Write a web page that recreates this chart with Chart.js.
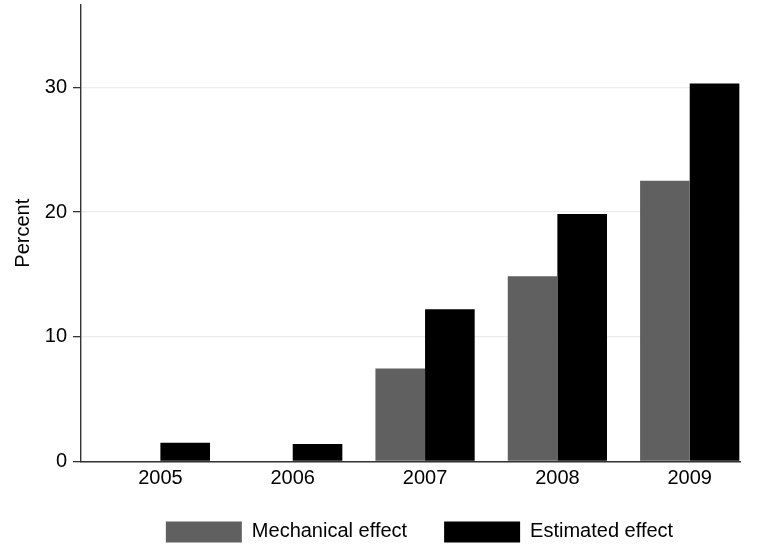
<!DOCTYPE html>
<html>
<head>
<meta charset="utf-8">
<script src="https://cdn.jsdelivr.net/npm/chart.js@4/dist/chart.umd.min.js"></script>
<style>
  html, body { margin: 0; padding: 0; background: #fff; }
  #wrap { width: 760px; height: 548px; }
</style>
</head>
<body>
<div id="wrap"><canvas id="chart" width="760" height="548"></canvas></div>
<script>
// data
const years = [2005, 2006, 2007, 2008, 2009];
const mechanical = [0, 0, 7.45, 14.85, 22.5];
const estimated = [1.5, 1.4, 12.2, 19.85, 30.3];
const yTicks = [0, 10, 20, 30];

const FONT = "'Liberation Sans', Arial, sans-serif";

const toPoints = vals => years.map((yr, i) => ({ x: yr, y: vals[i] }));

// nudge the legend so it sits where the original one does
const legendNudge = {
  id: 'legendNudge',
  afterLayout(chart) {
    const lg = chart.legend;
    if (!lg) return;
    const dy = 484.4 - lg.top;
    lg.left += 9; lg.right += 9;
    lg.top += dy; lg.bottom += dy;
  }
};

new Chart(document.getElementById('chart'), {
  type: 'bar',
  data: {
    datasets: [
      {
        label: 'Mechanical effect',
        data: toPoints(mechanical),
        backgroundColor: '#606060',
        borderWidth: 0,
        categoryPercentage: 0.75,
        barPercentage: 1
      },
      {
        label: 'Estimated effect',
        data: toPoints(estimated),
        backgroundColor: '#000000',
        borderWidth: 0,
        categoryPercentage: 0.75,
        barPercentage: 1
      }
    ]
  },
  options: {
    responsive: false,
    animation: false,
    events: [],
    layout: { padding: { left: 0, right: 20, top: 5, bottom: -11.5 } },
    scales: {
      x: {
        type: 'linear',
        offset: false,
        min: 2004.4,
        max: 2009.38,
        grid: { display: false, drawTicks: false },
        border: { display: true, color: '#333', width: 1.4 },
        afterBuildTicks: scale => { scale.ticks = years.map(v => ({ value: v })); },
        afterFit: scale => {
          scale.height = 30;
          scale.paddingLeft = 0; scale.paddingRight = 0;
        },
        ticks: {
          padding: 4.5,
          color: '#000',
          font: { family: FONT, size: 20 },
          callback: v => String(v)
        }
      },
      y: {
        min: 0,
        max: 36.6,
        grid: { color: '#ececec', lineWidth: 1.3, tickLength: 8, tickColor: '#333', tickWidth: 1.3 },
        border: { display: true, color: '#333', width: 1.4 },
        afterBuildTicks: scale => { scale.ticks = yTicks.map(v => ({ value: v })); },
        afterFit: scale => {
          scale.width = 81;
          scale.paddingTop = 0; scale.paddingBottom = 0;
        },
        ticks: {
          padding: 6,
          color: '#000',
          font: { family: FONT, size: 20 }
        },
        title: {
          display: true,
          text: 'Percent',
          color: '#000',
          font: { family: FONT, size: 20 },
          padding: { top: 11, bottom: 0 }
        }
      }
    },
    plugins: {
      tooltip: { enabled: false },
      legend: {
        position: 'bottom',
        fullSize: false,
        labels: {
          boxWidth: 76,
          boxHeight: 21,
          padding: 37,
          color: '#000',
          font: { family: FONT, size: 20 }
        }
      }
    }
  },
  plugins: [legendNudge]
});
</script>
</body>
</html>
